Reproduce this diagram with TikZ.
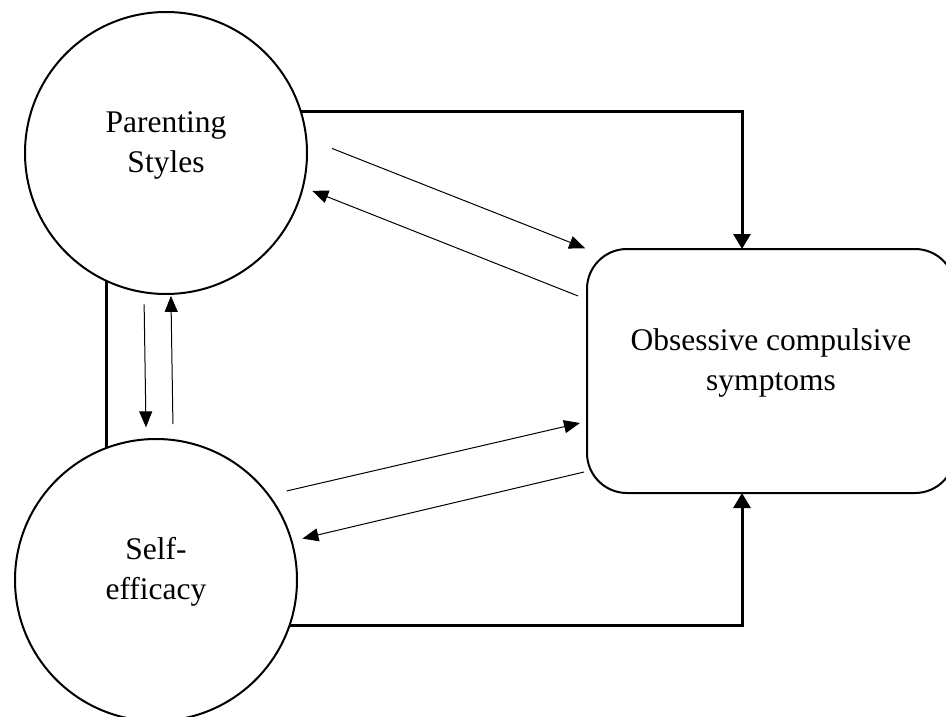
\documentclass[tikz,border=0pt]{standalone}
\usepackage{fontspec}
\setmainfont{Liberation Serif}
\usetikzlibrary{arrows.meta,calc}
\begin{document}
\begin{tikzpicture}[x=1pt,y=-1pt,
  bigcirc/.style={circle,draw,line width=2pt,minimum size=282pt,inner sep=0pt,outer sep=0pt},
  ocsbox/.style={rectangle,draw,line width=2pt,rounded corners=40pt,minimum width=368pt,minimum height=244pt,inner sep=0pt,outer sep=0pt},
  txt/.style={font=\fontsize{31.5}{40}\selectfont,align=center,inner sep=0pt},
  thick link/.style={line width=3pt,-{Triangle[length=15pt,width=17pt]}},
  plainthick/.style={line width=3pt},
  thin link/.style={line width=1pt,-{Triangle[length=16pt,width=13pt]}}]
\useasboundingbox (0,0) rectangle (946,717);
\fill[white] (0,0) rectangle (946,717);
\node[bigcirc,label={[txt,yshift=7.5pt]center:Parenting\\Styles}] (ps) at (166,153) {};
\node[bigcirc,label={[txt,yshift=8pt]center:Self-\\efficacy}] (se) at (156,580) {};
\node[ocsbox,label={[txt,yshift=8.5pt]center:Obsessive compulsive\\symptoms}] (ocs) at (771,371) {};
% thick connectors
\draw[thick link] (ps.17) -| ([xshift=-29pt]ocs.north);
\draw[thick link] (se.-19.5) -| ([xshift=-29pt]ocs.south);
\draw[plainthick] (ps.245.7) -- (ps.245.7 |- se.110);
% vertical thin arrows
\draw[thin link,shorten <=12pt,shorten >=12pt] (ps.261) -- (se.94.1);
\draw[thin link,shorten <=16pt,shorten >=2pt] (se.83.5) -- (ps.272.4);
% diagonal thin arrows
\draw[thin link,shorten <=27.7pt,shorten >=2pt] (ps.6.1) -- (ocs.north west);
\draw[thin link,shorten <=9.7pt,shorten >=10.2pt] ([yshift=-50.5pt]ocs.north west) -- (ps.-14.5);
\draw[thin link,shorten <=18.6pt,shorten >=7.2pt] (se.37.5) -- ([yshift=71.6pt]ocs.south west);
\draw[thin link,shorten <=3.1pt,shorten >=11.2pt] ([yshift=21.7pt]ocs.south west) -- (se.16.7);
\end{tikzpicture}
\end{document}
